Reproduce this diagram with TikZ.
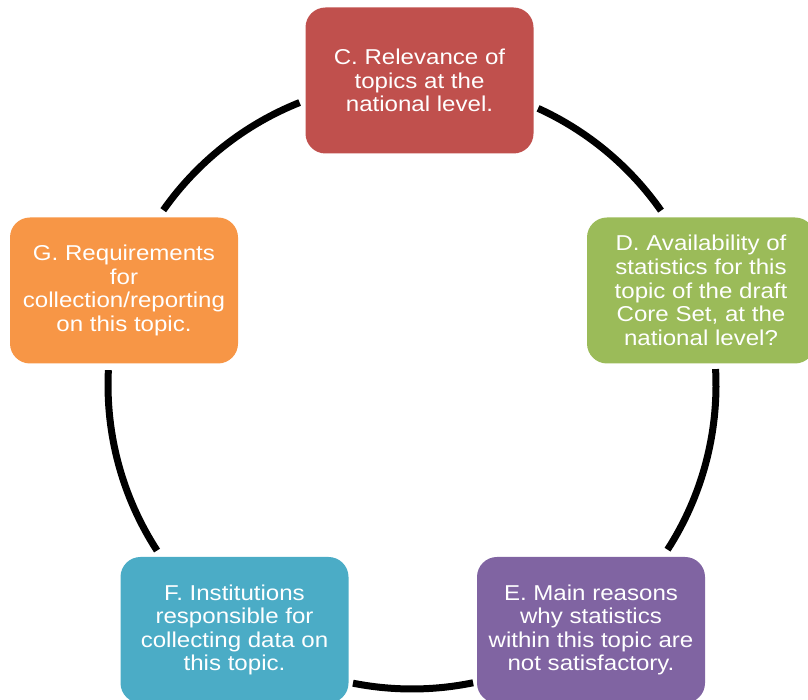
\documentclass[tikz,border=0pt]{standalone}
\usepackage{fontspec}
\setmainfont{Liberation Sans}[FakeStretch=1.12]
\definecolor{cred}{HTML}{C0504D}
\definecolor{cgreen}{HTML}{9BBB59}
\definecolor{cpurple}{HTML}{8064A2}
\definecolor{cteal}{HTML}{4BACC6}
\definecolor{corange}{HTML}{F79646}
\begin{document}
\begin{tikzpicture}[x=1pt,y=1pt,
  box/.style={rectangle, rounded corners=20pt, minimum width=228pt, minimum height=146pt,
    inner sep=2pt, align=center, text=white,
    font=\fontsize{21.5pt}{23.6pt}\selectfont},
  arcline/.style={line width=7pt, black, line cap=butt}]
\useasboundingbox (0,0) rectangle (808,700);
\coordinate (O) at (412,315);
\node[box, fill=cred] (C) at (419.5,619.5) {C. Relevance of\\topics at the\\national level.};
\node[box, fill=cgreen] (D) at (701,409.5) {D. Availability of\\statistics for this\\topic of the draft\\Core Set, at the\\national level?};
\node[box, fill=cpurple] (E) at (591,70) {E. Main reasons\\why statistics\\within this topic are\\not satisfactory.};
\node[box, fill=cteal] (F) at (234.5,70) {F. Institutions\\responsible for\\collecting data on\\this topic.};
\node[box, fill=corange] (G) at (124,409.5) {G. Requirements\\for\\collection/reporting\\on this topic.};
\draw[arcline] ([shift={(65.5:304pt)}]O) arc[start angle=65.5, end angle=35, radius=304pt];
\draw[arcline] ([shift={(3:304pt)}]O) arc[start angle=3, end angle=-32.8, radius=304pt];
\draw[arcline] ([shift={(-78.4:304pt)}]O) arc[start angle=-78.4, end angle=-101.2, radius=304pt];
\draw[arcline] ([shift={(213:304pt)}]O) arc[start angle=213, end angle=177.2, radius=304pt];
\draw[arcline] ([shift={(144.9:304pt)}]O) arc[start angle=144.9, end angle=111.7, radius=304pt];
\end{tikzpicture}
\end{document}
